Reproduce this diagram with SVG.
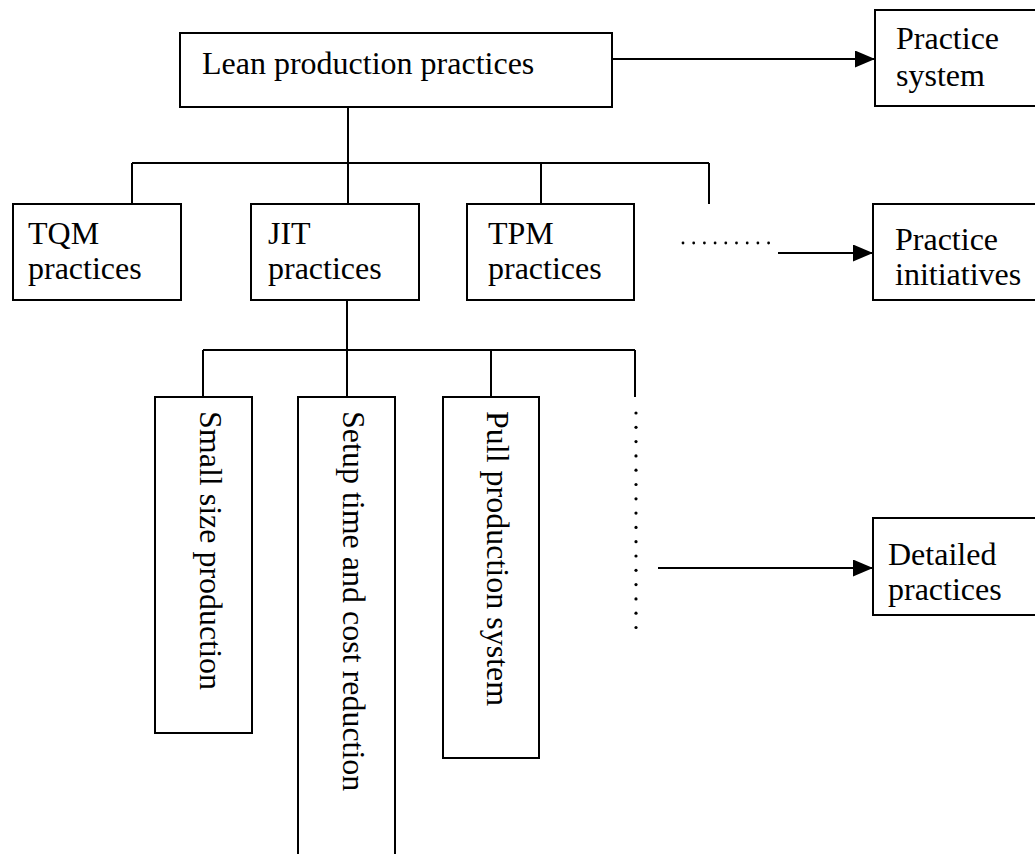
<svg xmlns="http://www.w3.org/2000/svg" width="1035" height="854" viewBox="0 0 1035 854">
<defs>
<style>
.box{fill:#fff;stroke:#000;stroke-width:2}
.ln{fill:none;stroke:#000;stroke-width:2}
.t{font-family:"Liberation Serif","Times New Roman",serif;font-size:32px;fill:#000}
.dot{fill:#000}
</style>
<marker id="ah" viewBox="0 0 20 17" refX="20" refY="8.5" markerWidth="20" markerHeight="17" markerUnits="userSpaceOnUse" orient="auto">
<path d="M0,0 L20,8.5 L0,17 Z" fill="#000"/>
</marker>
</defs>
<rect width="1035" height="854" fill="#fff"/>
<g id="connectors">
<path class="ln" d="M348,107 V204"/>
<path class="ln" d="M132,163 H709 M132,163 V204 M541,163 V204 M709,163 V204"/>
<path class="ln" d="M347,300 V397"/>
<path class="ln" d="M203,350 H635 M203,350 V397 M491,350 V397 M635,350 V397"/>
<path class="ln" d="M612,59 H875" marker-end="url(#ah)"/>
<path class="ln" d="M778,253 H873" marker-end="url(#ah)"/>
<path class="ln" d="M658,568 H873" marker-end="url(#ah)"/>
<g id="dots-h" class="dot">
<circle cx="683" cy="243" r="1.4"/><circle cx="693.7" cy="243" r="1.4"/><circle cx="704.4" cy="243" r="1.4"/><circle cx="715.1" cy="243" r="1.4"/><circle cx="725.8" cy="243" r="1.4"/><circle cx="736.5" cy="243" r="1.4"/><circle cx="747.2" cy="243" r="1.4"/><circle cx="757.9" cy="243" r="1.4"/><circle cx="768.6" cy="243" r="1.4"/>
</g>
<g id="dots-v" class="dot">
<circle cx="636" cy="413" r="1.6"/><circle cx="636" cy="427.3" r="1.6"/><circle cx="636" cy="441.6" r="1.6"/><circle cx="636" cy="455.9" r="1.6"/><circle cx="636" cy="470.2" r="1.6"/><circle cx="636" cy="484.5" r="1.6"/><circle cx="636" cy="498.8" r="1.6"/><circle cx="636" cy="513.1" r="1.6"/><circle cx="636" cy="527.4" r="1.6"/><circle cx="636" cy="541.7" r="1.6"/><circle cx="636" cy="556" r="1.6"/><circle cx="636" cy="570.3" r="1.6"/><circle cx="636" cy="584.6" r="1.6"/><circle cx="636" cy="598.9" r="1.6"/><circle cx="636" cy="613.2" r="1.6"/><circle cx="636" cy="627.5" r="1.6"/>
</g>
</g>
<g id="lean">
<rect class="box" x="180" y="33" width="432" height="74"/>
<text class="t" x="202" y="74">Lean production practices</text>
</g>
<g id="practice-system">
<rect class="box" x="875" y="10" width="170" height="96"/>
<text class="t" x="896" y="49">Practice</text>
<text class="t" x="896" y="86">system</text>
</g>
<g id="tqm">
<rect class="box" x="13" y="204" width="168" height="96"/>
<text class="t" x="28" y="244">TQM</text>
<text class="t" x="28" y="279">practices</text>
</g>
<g id="jit">
<rect class="box" x="251" y="204" width="168" height="96"/>
<text class="t" x="268" y="244">JIT</text>
<text class="t" x="268" y="279">practices</text>
</g>
<g id="tpm">
<rect class="box" x="467" y="204" width="167" height="96"/>
<text class="t" x="488" y="244">TPM</text>
<text class="t" x="488" y="279">practices</text>
</g>
<g id="practice-initiatives">
<rect class="box" x="873" y="204" width="170" height="96"/>
<text class="t" x="895" y="250">Practice</text>
<text class="t" x="895" y="285">initiatives</text>
</g>
<g id="small-size">
<rect class="box" x="155" y="397" width="97" height="336"/>
<text class="t" transform="translate(200,411) rotate(90)">Small size production</text>
</g>
<g id="setup">
<rect class="box" x="298" y="397" width="97" height="470"/>
<text class="t" transform="translate(343,411) rotate(90)">Setup time and cost reduction</text>
</g>
<g id="pull">
<rect class="box" x="443" y="397" width="96" height="361"/>
<text class="t" transform="translate(487,411) rotate(90)">Pull production system</text>
</g>
<g id="detailed">
<rect class="box" x="873" y="518" width="170" height="97"/>
<text class="t" x="888" y="565">Detailed</text>
<text class="t" x="888" y="600">practices</text>
</g>
</svg>
